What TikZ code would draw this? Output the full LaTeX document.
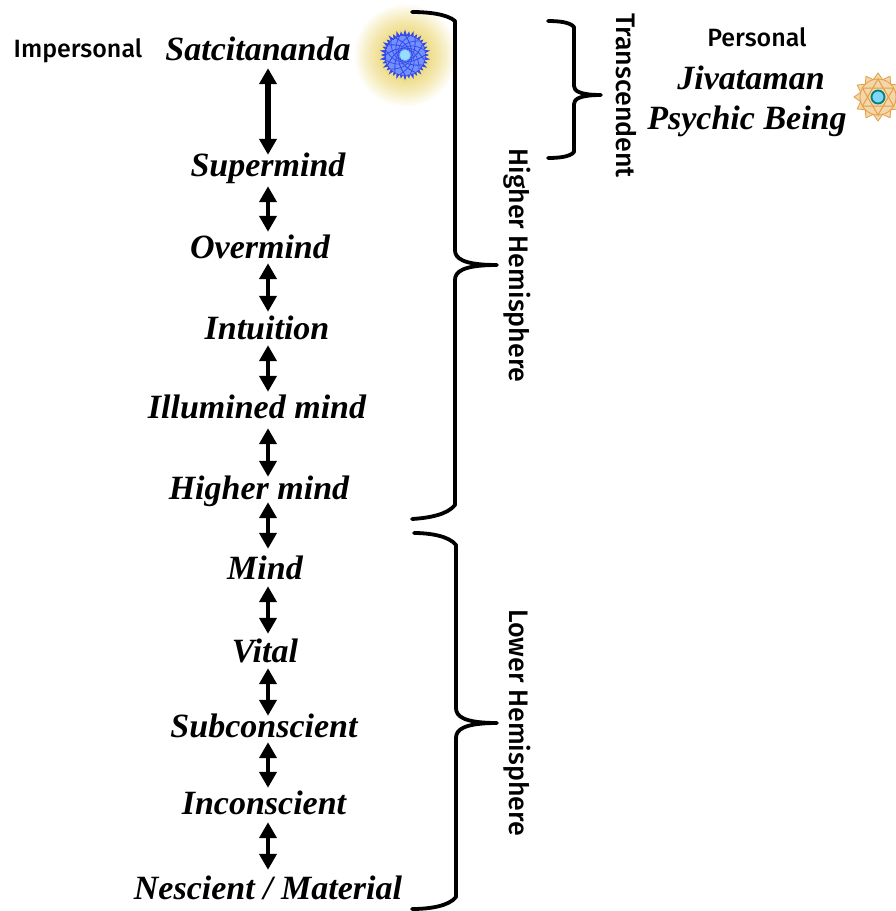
\documentclass[tikz,border=0pt]{standalone}
\usepackage{fontspec}
\setmainfont{Liberation Serif}
\newfontfamily\lblfont{Fira Sans Medium}
\usetikzlibrary{arrows.meta}
\definecolor{glowc}{RGB}{238,220,135}
\definecolor{blueA}{RGB}{52,72,235}
\definecolor{blueB}{RGB}{115,145,250}
\definecolor{orgA}{RGB}{226,160,70}
\definecolor{orgB}{RGB}{244,214,170}
\pgfdeclareradialshading{glowshade}{\pgfpoint{0pt}{0pt}}{
 color(0bp)=(glowc); color(11bp)=(glowc); color(18bp)=(glowc!55!white); color(25bp)=(white)}
\pgfdeclareradialshading{coreshade}{\pgfpoint{0pt}{0pt}}{
 color(0bp)=(cyan!45!white); color(10bp)=(blueB); color(25bp)=(blueB)}
\tikzset{
 x=1pt,y=-1pt,
 level/.style={inner sep=0pt,text height=24pt,text depth=1pt,font=\fontsize{34}{36}\selectfont\bfseries\itshape},
 lbl/.style={inner sep=0pt,font=\fontsize{25}{28}\lblfont},
 lblv/.style={inner sep=0pt,rotate=-90,font=\fontsize{26.8}{28}\lblfont},
 dbl/.style={line width=4.6pt,{Triangle[length=16pt,width=17pt]}-{Triangle[length=16pt,width=17pt]}},
 brace/.style={line width=3.8pt,line cap=round,line join=round}
}
\newcommand{\conn}[5][]{\draw[dbl,#1,shorten <=#4pt,shorten >=#5pt] (#2.south -| axis) -- (#3.north -| axis);}
\begin{document}
\begin{tikzpicture}
\useasboundingbox (0,0) rectangle (896,911);
\clip (0,0) rectangle (896,911);
\coordinate (axis) at (268,0);
% glow and chakra
\shade[shading=glowshade] (405,55) circle (52);
\begin{scope}[shift={(405,55)}]
 \fill[blueA] (0:24)
  \foreach \a in {1,...,36}{ -- ({\a*10-5}:20) -- ({\a*10}:{24+mod(\a,2)*1.5}) } -- cycle;
 \shade[shading=coreshade] (0,0) circle (20);
 \foreach \a in {0,30,...,330}{
  \draw[blueA,line width=.9pt] (\a:20) .. controls (\a+35:12) and (\a+60:8) .. (\a+95:6);
  \draw[blueA,line width=.7pt] (\a+15:20) .. controls (\a-20:14) and (\a-45:10) .. (\a-70:7);
 }
 \fill[cyan!40!white] (0,0) circle (5);
\end{scope}
\begin{scope}[shift={(878,97)}]
 \fill[orgB,draw=orgA,line width=.8pt] (0:24)
  \foreach \a in {1,...,12}{ -- ({\a*30-15}:18) -- ({\a*30}:24) } -- cycle;
 \draw[orgA,line width=.8pt] (0,0) circle (18);
 \draw[orgA,line width=1pt] (90:18) -- (210:18) -- (330:18) -- cycle;
 \draw[orgA,line width=1pt] (270:18) -- (30:18) -- (150:18) -- cycle;
 \fill[cyan!50!white,draw=teal,line width=1.8pt] (0,0) circle (6.5);
\end{scope}
% levels
\node[level] (sat) at (258,49) {Satcitananda};
\node[level] (sup) at (268,165) {Supermind};
\node[level] (ove) at (260,247) {Overmind};
\node[level] (int) at (267,328) {Intuition};
\node[level] (ill) at (257,407) {Illumined mind};
\node[level] (hig) at (259,488) {Higher mind};
\node[level] (min) at (265,568) {Mind};
\node[level] (vit) at (265,651) {Vital};
\node[level] (sub) at (264,726) {Subconscient};
\node[level] (inc) at (264,803) {Inconscient};
\node[level] (nes) at (268,888) {Nescient / Material};
\conn[line width=6pt]{sat}{sup}{6.5}{-2.5}
\conn{sup}{ove}{8.5}{2.5}
\conn{ove}{int}{3.5}{3.5}
\conn{int}{ill}{4.5}{2.5}
\conn{ill}{hig}{8.5}{-1.5}
\conn{hig}{min}{1.5}{6.5}
\conn{min}{vit}{5.5}{4.5}
\conn{vit}{sub}{4.5}{-2.5}
\conn{sub}{inc}{3.5}{2.5}
\conn{inc}{nes}{6.5}{5.5}
% right column
\node[level] (jiv) at (751,78) {Jivataman};
\node[level] (psy) at (747,118) {Psychic Being};
\node[lbl] (imp) at (78,51) {Impersonal};
\node[lbl] (per) at (757,37) {Personal};
\node[lblv] (hh) at (517,265.5) {Higher Hemisphere};
\node[lblv] (lh) at (517,722.5) {Lower Hemisphere};
\node[lblv] (tr) at (626,95.5) {Transcendent};
% braces
\coordinate (hhtip) at (497,265);
\coordinate (lhtip) at (497,723);
\coordinate (trtip) at (601,95);
\draw[brace] (412,12) .. controls (428,12) and (447,14) .. (455,21) -- (455,250)
 .. controls (455,258) and (462,265) .. (hhtip)
 .. controls (462,265) and (455,272) .. (455,280) -- (455,505)
 .. controls (447,515) and (428,518) .. (412,519);
\draw[brace] (414,533) .. controls (430,533) and (449,536) .. (456,545) -- (456,708)
 .. controls (456,716) and (463,723) .. (lhtip)
 .. controls (463,723) and (456,730) .. (456,738) -- (456,897)
 .. controls (449,906) and (430,909) .. (412,909);
\draw[brace] (548,21) .. controls (558,21) and (570,22) .. (574,27) -- (574,86)
 .. controls (574,91) and (580,95) .. (trtip)
 .. controls (580,95) and (574,99) .. (574,104) -- (574,152)
 .. controls (570,157) and (558,158) .. (548,158);
\end{tikzpicture}
\end{document}
